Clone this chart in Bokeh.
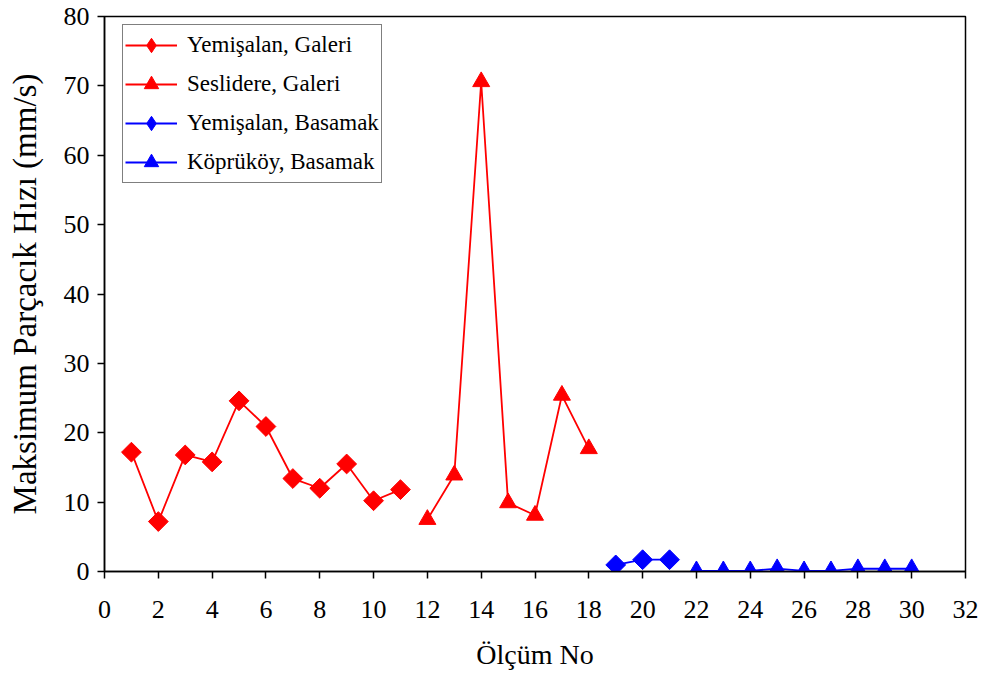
import math
from bokeh.plotting import figure
from bokeh.models import ColumnDataSource, Range1d, FixedTicker, Legend, LegendItem
from bokeh.embed import file_html
from bokeh.resources import INLINE

# Data
yg_x = [1, 2, 3, 4, 5, 6, 7, 8, 9, 10, 11]
yg_y = [17.2, 7.2, 16.8, 15.8, 24.6, 20.9, 13.4, 12.0, 15.5, 10.2, 11.8]
sg_x = [12, 13, 14, 15, 16, 17, 18]
sg_y = [7.5, 13.9, 70.6, 9.9, 8.1, 25.4, 17.7]
yb_x = [19, 20, 21]
yb_y = [0.95, 1.7, 1.7]
kb_x = [22, 23, 24, 25, 26, 27, 28, 29, 30]
kb_y = [0.1, 0.1, 0.1, 0.4, 0.1, 0.1, 0.4, 0.4, 0.4]
x_ticks = list(range(0, 33, 2))
y_ticks = list(range(0, 81, 10))
x_title = "Ölçüm No"
y_title = "Maksimum Parçacık Hızı (mm/s)"

FONT = "Liberation Serif"

p = figure(width=984, height=675, output_backend="svg", toolbar_location=None,
           x_range=Range1d(0, 32), y_range=Range1d(0, 80),
           min_border_left=104, min_border_right=19, min_border_top=16, min_border_bottom=104)
p.grid.visible = False
p.outline_line_color = "black"
p.outline_line_width = 1.5
p.background_fill_color = "white"
p.border_fill_color = "white"

for ax in (p.xaxis[0], p.yaxis[0]):
    ax.axis_line_color = "black"
    ax.axis_line_width = 1.5
    ax.major_tick_line_color = "black"
    ax.major_tick_line_width = 1.5
    ax.major_tick_in = 0
    ax.major_tick_out = 7
    ax.minor_tick_line_color = None
    ax.major_label_text_font = FONT
    ax.major_label_text_font_size = "26px"
    ax.major_label_text_color = "black"
    ax.axis_label_text_font = FONT
    ax.axis_label_text_font_style = "normal"
    ax.axis_label_text_color = "black"

p.xaxis[0].ticker = FixedTicker(ticks=x_ticks)
p.yaxis[0].ticker = FixedTicker(ticks=y_ticks)
p.xaxis[0].axis_label = x_title
p.yaxis[0].axis_label = y_title
p.xaxis[0].axis_label_text_font_size = "28px"
p.yaxis[0].axis_label_text_font_size = "33px"
p.xaxis[0].major_label_standoff = 22
p.yaxis[0].major_label_standoff = 8
p.xaxis[0].axis_label_standoff = 18
p.yaxis[0].axis_label_standoff = 18

items = []

def series(xs, ys, color, marker, label):
    src = ColumnDataSource(dict(x=xs, y=ys))
    l = p.line("x", "y", source=src, line_color=color, line_width=1.8)
    if marker == "diamond":
        p.scatter("x", "y", source=src, marker="square", size=14, angle=math.pi / 4,
                  fill_color=color, line_color=color)
        # legend-only glyph placed outside the visible range so the key shows a diamond
        s = p.scatter(x=[-100], y=[-100], marker="diamond", fill_color=color, line_color=color)
    else:
        s = p.scatter("x", "y", source=src, marker="triangle", size=17,
                      fill_color=color, line_color=color)
    items.append(LegendItem(label=label, renderers=[l, s]))

series(yg_x, yg_y, "#ff0000", "diamond", "Yemişalan, Galeri")
series(sg_x, sg_y, "#ff0000", "triangle", "Seslidere, Galeri")
series(yb_x, yb_y, "#0000ff", "diamond", "Yemişalan, Basamak")
series(kb_x, kb_y, "#0000ff", "triangle", "Köprüköy, Basamak")

legend = Legend(items=items, location=(18, 388))
legend.label_text_font = FONT
legend.label_text_font_size = "23px"
legend.label_text_color = "black"
legend.glyph_width = 52
legend.glyph_height = 36
legend.label_height = 36
legend.label_standoff = 10
legend.spacing = 3
legend.padding = 2
legend.margin = 0
legend.border_line_color = "black"
legend.border_line_width = 1.5
legend.background_fill_alpha = 1
p.add_layout(legend, "center")

open("out.html", "w").write(file_html(p, INLINE))
